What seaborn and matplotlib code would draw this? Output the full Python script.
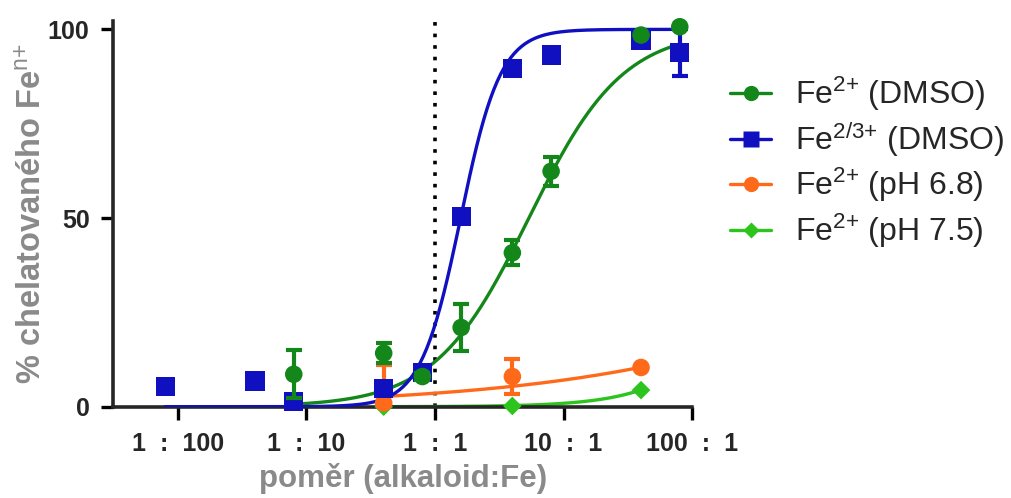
import numpy as np
import pandas as pd
import matplotlib
matplotlib.use("Agg")
import matplotlib.pyplot as plt
from matplotlib.lines import Line2D
import seaborn as sns

# ratios alkaloid:Fe and % chelated iron
fe2_dmso_x = [0.08, 0.4, 0.8, 1.6, 4, 8, 40, 80]
fe2_dmso_y = [8.6, 14.2, 8.0, 21.0, 40.8, 62.4, 98.5, 100.7]
fe2_dmso_err = [6.4, 2.7, 1.0, 6.3, 3.3, 3.8, 0, 0]

fe23_dmso_x = [0.008, 0.04, 0.08, 0.4, 0.8, 1.6, 4, 8, 40, 80]
fe23_dmso_y = [5.3, 6.8, 1.3, 4.9, 9.0, 50.4, 89.6, 93.2, 97.2, 93.8]
fe23_dmso_err = [0, 0, 0, 0, 0, 0, 0, 0, 0, 6.2]

fe2_ph68_x = [0.4, 4, 40]
fe2_ph68_y = [1.0, 8.0, 10.4]
fe2_ph68_err = [10.0, 4.7, 0]

fe2_ph75_x = [0.4, 4, 40]
fe2_ph75_y = [0.0, 0.2, 4.4]
fe2_ph75_err = [0, 0, 0]

# Hill fits (logEC50, hill slope), bottom 0, top 100
fit_params = {
    "fe2_dmso": (0.73, 1.19),
    "fe23_dmso": (0.20, 2.8),
    "fe2_ph68": (4.6, 0.311),
    "fe2_ph75": (2.73, 1.18),
}

tick_vals = [0.01, 0.1, 1, 10, 100]
tick_labels = ["1  :  100", "1  :  10", "1  :  1", "10  :  1", "100  :  1"]

keys = ["fe2_dmso", "fe23_dmso", "fe2_ph68", "fe2_ph75"]
labels = {
    "fe2_dmso": r"Fe$^{\text{2+}}$ (DMSO)",
    "fe23_dmso": r"Fe$^{\text{2/3+}}$ (DMSO)",
    "fe2_ph68": r"Fe$^{\text{2+}}$ (pH 6.8)",
    "fe2_ph75": r"Fe$^{\text{2+}}$ (pH 7.5)",
}
colors = {
    "fe2_dmso": "#14871a",
    "fe23_dmso": "#1010c0",
    "fe2_ph68": "#ff6a1a",
    "fe2_ph75": "#2ec41e",
}
markers = {"fe2_dmso": "o", "fe23_dmso": "s", "fe2_ph68": "o", "fe2_ph75": "D"}
msizes = {"fe2_dmso": 160, "fe23_dmso": 190, "fe2_ph68": 160, "fe2_ph75": 90}

series = {
    "fe2_dmso": (fe2_dmso_x, fe2_dmso_y, fe2_dmso_err),
    "fe23_dmso": (fe23_dmso_x, fe23_dmso_y, fe23_dmso_err),
    "fe2_ph68": (fe2_ph68_x, fe2_ph68_y, fe2_ph68_err),
    "fe2_ph75": (fe2_ph75_x, fe2_ph75_y, fe2_ph75_err),
}

sns.set_style("ticks")
plt.rcParams["font.family"] = ["Liberation Sans", "DejaVu Sans"]
plt.rcParams["mathtext.fontset"] = "custom"
plt.rcParams["mathtext.rm"] = "Liberation Sans"
plt.rcParams["mathtext.bf"] = "Liberation Sans:bold"
plt.rcParams["mathtext.default"] = "regular"

fig = plt.figure(figsize=(10.11, 4.98), dpi=100)
ax = fig.add_axes([0.112, 0.1833, 0.5727, 0.7751])
ax.set_xscale("log")

# fitted curves
z = {"fe2_dmso": 3, "fe23_dmso": 4, "fe2_ph68": 2, "fe2_ph75": 2}
for key, (xs, ys, es) in series.items():
    logec, h = fit_params[key]
    lx = np.linspace(np.log10(min(xs)), np.log10(max(xs)), 300)
    curve = pd.DataFrame({"ratio": 10 ** lx,
                          "pct": 100 / (1 + 10 ** ((logec - lx) * h))})
    sns.lineplot(data=curve, x="ratio", y="pct", color=colors[key],
                 lw=2.4, ax=ax, zorder=z[key])

# data points + error bars
order = ["fe2_ph75", "fe2_ph68", "fe23_dmso", "fe2_dmso"]
for i, key in enumerate(order):
    xs, ys, es = series[key]
    pts = pd.DataFrame({"ratio": xs, "pct": ys, "err": es})
    werr = pts[pts["err"] > 0]
    ax.errorbar(werr["ratio"], werr["pct"], yerr=werr["err"], fmt="none",
                ecolor=colors[key], elinewidth=3, capsize=6, capthick=3,
                zorder=5 + i)
    sns.scatterplot(data=pts, x="ratio", y="pct", color=colors[key],
                    marker=markers[key], s=msizes[key], edgecolor="none",
                    ax=ax, zorder=5 + i, clip_on=False)

ax.axvline(1, color="black", ls=(0, (1, 2.2)), lw=2.6, zorder=1)

ax.set_xlim(10 ** -2.5, 100)
ax.set_ylim(0, 102.3)
ax.set_xticks(tick_vals)
ax.set_xticklabels(tick_labels)
ax.minorticks_off()
ax.set_yticks([0, 50, 100])
ax.tick_params(axis="both", width=2.4, length=9, labelsize=18, color="black")
ax.tick_params(axis="x", pad=9)
ax.tick_params(axis="y", pad=8)
for lab in ax.get_xticklabels() + ax.get_yticklabels():
    lab.set_fontweight("bold")

for side in ["left", "bottom"]:
    ax.spines[side].set_linewidth(2.6)
sns.despine(ax=ax)

ax.set_xlabel("poměr (alkaloid:Fe)", fontsize=22.5, fontweight="bold",
              color="#8a8a8a", labelpad=5)
ax.set_ylabel(r"% chelatovaného Fe$^{\text{n+}}$", fontsize=23.5,
              fontweight="bold", color="#8a8a8a")
ax.yaxis.set_label_coords(-0.112, 0.5)

handles = [Line2D([0], [0], color=colors[k], lw=2.4, marker=markers[k],
                  markersize=11 if markers[k] != "D" else 8,
                  markeredgecolor="none")
           for k in keys]
fig.legend(handles, [labels[k] for k in keys],
           loc="upper left", bbox_to_anchor=(0.722, 0.85), frameon=False,
           fontsize=23, handlelength=1.3, handletextpad=0.75,
           labelspacing=0.22, borderaxespad=0, borderpad=0)

fig.savefig("out.png", dpi=100)
